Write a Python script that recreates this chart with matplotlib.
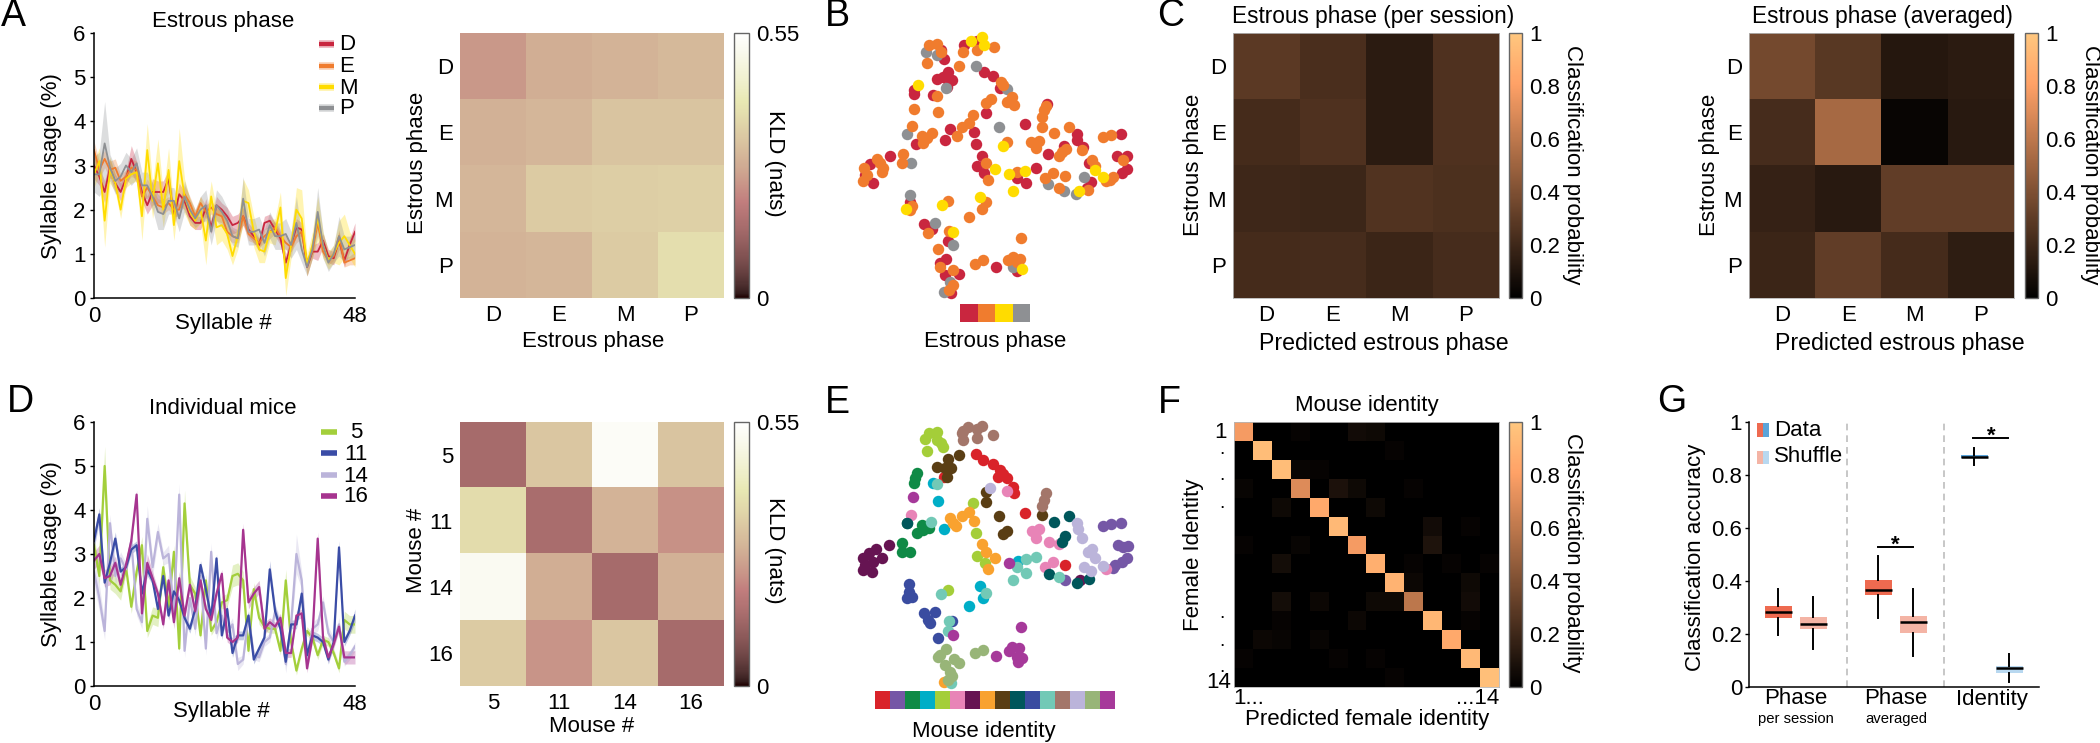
"""
Behaviour figure: syllable usage, KLD, embeddings and classifier results
"""
import numpy as np
import matplotlib
matplotlib.use("Agg")
import matplotlib.pyplot as plt
from matplotlib.lines import Line2D
from matplotlib.patches import Rectangle

plt.rcParams["font.family"] = ["Liberation Sans", "DejaVu Sans"]
plt.rcParams["font.size"] = 16

W, H = 2100, 743

# ---- panel A: usage per phase
phase_names = ["D", "E", "M", "P"]
phase_colors = ["#C9263F", "#F07C2E", "#FFDC00", "#8E9093"]
usage_D = [3.0,2.75,2.4,2.95,2.6,2.4,2.7,3.15,2.85,2.4,2.1,2.4,2.4,2.4,2.7,1.85,2.35,2.2,1.85,1.7,1.7,2.05,1.6,2.1,2.0,1.85,1.65,1.7,1.85,1.55,1.4,1.2,1.7,1.75,1.55,1.35,0.8,1.2,1.6,1.55,0.7,1.05,1.05,1.3,0.95,0.9,1.3,0.85,1.2,1.5]
usage_E = [3.35,2.9,3.15,2.9,2.95,2.65,2.75,2.95,2.9,2.3,2.5,2.3,2.1,2.05,2.15,2.0,2.0,2.35,2.15,1.85,2.15,1.95,2.05,1.9,1.85,1.5,1.4,1.35,1.85,1.45,1.35,1.25,1.4,1.5,1.6,1.4,1.25,1.15,1.4,1.5,0.8,1.05,1.7,1.05,0.85,0.95,1.4,0.8,0.85,0.9]
usage_M = [2.8,3.1,1.75,2.9,2.6,2.0,2.7,2.8,2.85,1.85,3.35,2.2,3.05,2.0,2.9,1.65,3.1,2.3,1.95,1.75,2.0,1.3,2.3,1.6,1.65,1.45,0.95,1.4,2.2,2.15,1.5,1.1,1.05,1.5,1.5,2.05,0.45,1.2,2.0,1.8,0.75,1.2,1.8,1.2,0.85,1.0,1.25,1.4,1.2,1.0]
usage_P = [2.8,2.8,3.5,2.95,2.65,2.75,3.0,2.85,3.05,2.55,2.55,2.3,1.95,1.9,2.2,2.2,1.8,2.3,2.0,1.8,2.0,2.1,1.5,2.1,1.95,1.75,1.4,1.35,2.25,1.5,1.5,1.55,1.25,1.65,1.4,1.4,1.45,1.2,1.7,1.1,0.7,1.1,1.95,1.2,0.8,1.0,1.4,1.1,1.15,1.2]
sem_D = [.3,.2,.25,.2,.2,.2,.2,.3,.25,.2,.2,.3,.25,.25,.2,.2,.25,.2,.2,.15,.15,.2,.15,.2,.15,.2,.2,.2,.2,.15,.15,.15,.15,.15,.15,.15,.2,.15,.2,.15,.2,.15,.2,.15,.15,.15,.2,.15,.15,.2]
sem_E = [.2,.2,.2,.2,.2,.15,.15,.2,.2,.15,.2,.15,.15,.15,.15,.15,.15,.2,.15,.15,.15,.15,.15,.15,.15,.15,.15,.1,.2,.15,.1,.1,.15,.15,.15,.15,.15,.1,.15,.15,.1,.1,.15,.1,.1,.1,.15,.1,.1,.15]
sem_M = [.3,.3,.6,.3,.2,.2,.2,.2,.2,.55,.6,.4,.55,.4,.5,.35,.75,.4,.3,.2,.3,.55,.35,.4,.35,.35,.2,.3,.5,.3,.35,.3,.25,.25,.3,.35,.4,.3,.5,.65,.25,.3,.5,.3,.2,.2,.5,.5,.3,.3]
sem_P = [.4,.5,.95,.3,.3,.3,.3,.3,.35,.3,.3,.3,.4,.35,.3,.3,.3,.35,.25,.2,.3,.35,.3,.35,.35,.3,.2,.2,.5,.3,.3,.3,.3,.3,.3,.3,.35,.3,.6,.3,.2,.2,.55,.3,.2,.2,.45,.3,.25,.3]

# ---- panel D: usage per mouse
mouse_names = ["5", "11", "14", "16"]
mouse_colors = ["#A3CF3B", "#3A4CA6", "#BBB4DA", "#A6348F"]
usage_5 = [3.2,2.5,5.0,2.4,2.3,2.15,2.7,1.8,2.6,3.2,1.25,1.6,1.55,2.7,1.8,3.05,0.85,4.15,2.3,2.1,1.15,2.4,1.25,1.45,1.9,1.95,2.5,2.55,2.4,0.8,2.2,1.55,1.35,1.3,1.3,0.8,2.4,1.0,0.35,0.85,1.25,1.1,0.7,1.05,1.0,0.75,0.4,1.5,1.4,1.4]
usage_11 = [3.3,3.9,2.35,2.8,3.35,2.6,2.7,3.1,3.2,2.1,2.65,2.4,1.75,2.5,1.6,2.15,1.95,1.55,1.3,1.75,2.75,2.2,1.55,2.9,1.15,1.75,0.75,1.15,1.15,1.6,0.6,0.85,1.1,2.65,1.7,1.3,0.55,1.4,1.4,2.1,0.7,1.15,1.1,1.0,0.6,1.0,3.15,1.0,1.25,1.6]
usage_14 = [2.6,2.0,1.25,3.7,2.5,2.9,2.65,3.3,1.75,1.45,3.8,2.7,3.5,2.9,3.0,1.7,4.35,0.8,2.0,1.3,2.5,0.85,3.05,1.2,1.6,1.2,1.4,0.5,0.6,1.6,0.7,0.65,1.0,1.1,1.7,1.4,0.5,1.4,3.0,2.4,0.6,1.3,1.4,1.9,1.2,1.0,1.4,0.55,0.7,0.9]
usage_16 = [2.85,3.0,2.45,2.5,2.8,2.3,2.75,3.3,4.35,1.65,2.8,2.45,2.1,1.4,2.4,1.45,2.45,1.6,2.3,1.7,2.4,1.75,1.5,2.1,2.55,1.1,1.0,1.1,3.55,1.9,2.1,2.25,1.3,1.45,1.35,1.55,0.75,0.75,1.6,1.65,0.4,1.1,3.35,1.1,0.65,0.95,1.35,0.65,0.65,0.65]
sem_5 = [.2,.2,.45,.2,.2,.2,.15,.15,.15,.2,.15,.2,.2,.15,.15,.15,.1,.3,.2,.15,.1,.15,.1,.1,.15,.15,.25,.25,.2,.1,.15,.15,.1,.1,.1,.1,.25,.1,.1,.1,.1,.1,.1,.1,.1,.1,.1,.2,.2,.2]
sem_11 = [.2,.15,.15,.15,.15,.1,.1,.1,.1,.15,.15,.1,.1,.1,.1,.1,.1,.1,.1,.1,.1,.1,.1,.1,.1,.1,.1,.1,.1,.1,.1,.1,.1,.2,.15,.1,.1,.1,.1,.15,.1,.1,.1,.1,.1,.1,.15,.1,.1,.15]
sem_14 = [.3,.3,.2,.2,.2,.15,.15,.15,.15,.15,.3,.2,.2,.15,.2,.15,.25,.15,.15,.15,.15,.15,.2,.15,.15,.15,.15,.15,.1,.15,.1,.1,.1,.1,.15,.15,.2,.15,.45,.2,.1,.15,.15,.15,.15,.1,.15,.1,.1,.1]
sem_16 = [.2,.2,.2,.2,.15,.15,.15,.15,.1,.15,.2,.15,.1,.1,.15,.15,.15,.1,.1,.1,.1,.1,.1,.1,.1,.1,.1,.1,.15,.15,.15,.15,.15,.1,.1,.1,.1,.1,.1,.1,.1,.1,.15,.1,.1,.1,.1,.15,.15,.15]

# ---- KLD matrices (nats)
kld_phase = [[.242, .280, .292, .302],
             [.286, .297, .325, .325],
             [.297, .341, .347, .352],
             [.292, .297, .341, .385]]
kld_mouse = [[.148, .330, .534, .325],
             [.380, .154, .292, .231],
             [.523, .280, .148, .286],
             [.341, .236, .330, .148]]

# ---- classifier confusion matrices
conf_session = [[.29, .235, .14, .25],
                [.22, .25, .14, .25],
                [.20, .195, .26, .245],
                [.22, .225, .19, .225]]
conf_averaged = [[.37, .285, .12, .14],
                 [.225, .53, .03, .13],
                 [.17, .13, .31, .31],
                 [.19, .31, .22, .15]]
conf_diag = [.78, .95, .95, .70, .85, .93, .78, .88, .90, .60, .92, .85, .93, .96]
# (row, col, probability), 1-based like the axis labels
conf_off = [(1,4,.02),(1,7,.06),(1,8,.05),(2,9,.02),(3,4,.03),(3,5,.02),(4,1,.03),(4,6,.09),
            (4,7,.05),(4,10,.02),(5,3,.05),(5,8,.05),(6,11,.06),(6,13,.02),(7,1,.02),(7,4,.03),
            (7,11,.10),(8,3,.07),(8,10,.02),(8,12,.02),(8,14,.02),(9,10,.04),(9,13,.05),
            (10,3,.07),(10,5,.04),(10,8,.05),(10,9,.05),(10,13,.06),(11,3,.02),(11,7,.04),
            (11,13,.02),(12,2,.04),(12,3,.03),(12,5,.03),(13,1,.02),(13,6,.02),(13,8,.02),(14,9,.02)]

# ---- panel B embedding, coloured by phase
emb_B_D = [(362,150),(372,177),(385,215),(350,237),(370,232),(395,240),(380,262),(283,282),(282,270),(338,285),(491,215),(519,228),(432,135),(470,122),(680,313),(499,339),(614,373),(391,387),(375,420),(289,433),(463,397),(469,433),(486,467),(472,499),(493,520),(210,468),(150,492),(160,550),(135,525),(540,265),(770,403),(772,420),(788,440),(733,437),(685,461),(648,505),(592,535),(617,550),(806,489),(813,547),(800,565),(903,403),(892,467),(920,468),(922,507),(905,520),(270,605),(312,672),(335,688),(385,723),(378,778),(527,800),(592,812),(375,825),(417,821),(393,880),(360,790)]
emb_B_P = [(318,155),(350,165),(378,265),(467,197),(562,267),(262,403),(536,381),(272,490),(685,553),(733,574),(768,581),(793,532),(270,586),(345,668),(398,735),(580,802),(390,845),(373,875)]
emb_B_E = [(328,135),(350,133),(362,155),(322,188),(416,198),(428,155),(470,150),(521,142),(543,245),(548,255),(498,308),(513,298),(575,292),(560,305),(582,315),(351,288),(282,326),(354,335),(460,344),(447,368),(425,381),(410,408),(335,398),(305,408),(275,378),(320,415),(310,428),(248,461),(245,490),(170,478),(180,490),(190,505),(185,517),(133,505),(140,525),(130,542),(498,490),(505,540),(560,425),(590,515),(677,318),(672,330),(665,350),(665,380),(703,398),(747,380),(850,410),(873,405),(633,425),(657,422),(648,445),(738,447),(725,455),(716,467),(785,450),(815,480),(825,498),(700,520),(675,535),(734,527),(716,563),(805,570),(880,530),(870,540),(858,543),(910,480),(383,603),(275,618),(270,630),(497,607),(487,628),(447,650),(388,693),(325,700),(354,747),(604,713),(465,791),(488,781),(565,780),(578,770),(592,785),(600,776),(360,802),(400,810),(398,855),(388,870)]
emb_B_M = [(293,256),(452,123),(487,112),(491,135),(549,437),(525,508),(566,523),(615,512),(579,574),(848,531),(825,510),(778,573),(481,590),(365,615),(258,627),(400,695),(605,806)]

# ---- panel E embedding, coloured by mouse
identity_colors = ["#D9232A", "#7557A6", "#0F8A46", "#00AEC7", "#A4CE39", "#E884B7", "#661452", "#F9A22F",
                   "#5A3E14", "#00575B", "#3A4CA0", "#72C9B6", "#A3766A", "#BBB4DA", "#98B578", "#A6399A"]
emb_E = [
    [(467,253),(490,270),(519,283),(540,300),(548,312),(535,322),(562,323),(578,350),(583,370),(614,428),(735,585),(372,320)],
    [(850,467),(873,463),(904,459),(893,525),(908,530),(925,527),(922,565),(905,575),(885,585),(880,595),(735,631)],
    [(292,310),(285,325),(281,340),(305,465),(290,490),(310,480),(327,475),(247,520),(245,547),(270,547),(262,460)],
    [(338,340),(353,392),(373,476),(594,573),(481,648),(488,685),(446,708)],
    [(327,190),(350,187),(315,208),(350,210),(362,220),(370,230),(320,242),(459,400),(469,490),(472,557),(494,578),(383,661)],
    [(273,434),(637,482),(658,478),(648,503),(686,517),(718,522),(700,577),(676,592),(858,597),(562,362)],
    [(208,525),(167,537),(147,550),(130,565),(185,565),(160,575),(135,585),(130,600),(157,607),(780,630)],
    [(390,445),(400,460),(408,468),(426,438),(447,425),(463,453),(486,523),(497,547),(526,565),(505,598),(372,935)],
    [(416,254),(385,268),(350,292),(375,293),(393,295),(380,320),(497,365),(498,395),(536,437),(666,436),(548,492),(560,483)],
    [(262,460),(703,455),(748,437),(735,497),(725,515),(686,612),(770,638),(806,628)],
    [(268,643),(268,665),(262,685),(275,680),(312,730),(345,725),(325,750),(330,760),(395,752),(353,805)],
    [(350,343),(333,455),(617,568),(648,560),(592,592),(617,608),(580,631),(718,620),(362,673),(497,668),(388,752),(384,783),(392,938)],
    [(430,182),(445,170),(470,178),(487,168),(520,196),(430,210),(470,205),(425,190),(678,370),(672,390),(667,408)],
    [(511,354),(772,460),(773,478),(787,503),(817,537),(803,545),(825,565),(793,590),(813,604),(848,588)],
    [(378,838),(360,855),(355,860),(375,885),(402,868),(418,880),(390,905),(395,918),(385,930),(465,850),(488,840)],
    [(280,382),(566,580),(398,794),(604,771),(527,859),(575,830),(598,835),(568,842),(590,860),(605,865),(595,875)],
]

# ---- panel G boxes: low whisker, q1, median, q3, high whisker
box_stats = [[.197, .262, .283, .304, .369],
             [.142, .218, .239, .264, .340],
             [.260, .346, .366, .405, .493],
             [.118, .205, .244, .268, .369],
             [.836, .864, .868, .877, .902],
             [.018, .054, .070, .079, .123]]
box_colors = ["#EE6A50", "#F4B4A5", "#EE6A50", "#F4B4A5", "#5BA4D9", "#B8D8F0"]


fig = plt.figure(figsize=(W / 100, H / 100), dpi=100)


def px_axes(left, top, right, bottom):
    return fig.add_axes([left / W, 1 - bottom / H, (right - left) / W, (bottom - top) / H])


def put(x, y, s, **kw):
    kw.setdefault("ha", "center")
    kw.setdefault("va", "center")
    return fig.text(x / W, 1 - y / H, s, **kw)


def fig_line(x0, x1, y, **kw):
    fig.add_artist(Line2D([x0 / W, x1 / W], [1 - y / H, 1 - y / H], transform=fig.transFigure, **kw))


def fig_rect(x0, y0, x1, y1, color):
    fig.add_artist(Rectangle((x0 / W, 1 - y1 / H), (x1 - x0) / W, (y1 - y0) / H,
                             transform=fig.transFigure, facecolor=color, edgecolor="none"))


def usage_panel(top, bottom, series, sems, colors, lw):
    ax = px_axes(94, top, 355, bottom)
    x = np.arange(len(series[0]))
    for y, e, c in zip(series, sems, colors):
        y, e = np.array(y), np.array(e)
        ax.fill_between(x, y - e, y + e, color=c, alpha=0.3, lw=0)
        ax.plot(x, y, color=c, lw=lw)
    ax.set_xlim(0, x[-1])
    ax.set_ylim(0, 6)
    ax.set_yticks(range(7))
    ax.set_xticks([0, x[-1]], ["0", "48"])
    ax.tick_params(axis="y", length=3, width=1, pad=3)
    ax.tick_params(axis="x", length=0, pad=6)
    ax.spines[["top", "right"]].set_visible(False)
    ax.spines[["left", "bottom"]].set_linewidth(1.1)
    return ax


def heat_panel(left, top, right, bottom, values, cmap, vmax, names=None):
    ax = px_axes(left, top, right, bottom)
    im = ax.imshow(values, cmap=cmap, vmin=0, vmax=vmax, aspect="auto", interpolation="nearest")
    if names is None:
        ax.set_xticks([])
        ax.set_yticks([])
    else:
        ax.set_xticks(range(len(names)), names)
        ax.set_yticks(range(len(names)), names)
    ax.tick_params(length=0, pad=5)
    for s in ax.spines.values():
        s.set_color("#b5b5b5")
        s.set_linewidth(0.6)
    return ax, im


def color_bar(im, left, top, right, bottom, ticks, labels, title, title_x, title_y):
    cax = px_axes(left, top, right, bottom)
    cb = fig.colorbar(im, cax=cax)
    cb.set_ticks(ticks, labels=labels)
    cb.ax.tick_params(length=0, pad=5)
    cb.outline.set_edgecolor("#666666")
    cb.outline.set_linewidth(1)
    put(title_x, title_y, title, rotation=270)


def embedding(left, top, right, bottom, groups, colors):
    ax = px_axes(left, top, right, bottom)
    for pts, c in zip(groups, colors):
        xy = np.array(pts)
        ax.scatter(xy[:, 0], xy[:, 1], s=68, color=c, linewidths=0)
    ax.set_xlim(0, (right - left) * 3)
    ax.set_ylim((bottom - top) * 3, 0)
    ax.axis("off")


def color_strip(left, top, right, bottom, colors):
    ax = px_axes(left, top, right, bottom)
    ax.bar(range(len(colors)), 1, width=1, color=colors)
    ax.set_xlim(-0.5, len(colors) - 0.5)
    ax.set_ylim(0, 1)
    ax.axis("off")


# panel letters
for letter, x, y in [("A", 13, 16), ("B", 837, 16), ("C", 1171, 16),
                     ("D", 20, 402), ("E", 837, 403), ("F", 1169, 403), ("G", 1672, 402)]:
    put(x, y, letter, fontsize=27)

# A
usage_panel(33, 298, [usage_D, usage_E, usage_M, usage_P], [sem_D, sem_E, sem_M, sem_P], phase_colors, 1.3)
put(223, 21, "Estrous phase")
put(223, 324, "Syllable #")
put(52, 166, "Syllable usage (%)", rotation=90)
for name, c, y in zip(phase_names, phase_colors, [44, 66, 87, 108]):
    fig_line(319, 334, y, color=c, lw=5.5, alpha=0.35, solid_capstyle="butt")
    fig_line(319, 334, y, color=c, lw=3, solid_capstyle="butt")
    put(339, y + 1, name, ha="left")

# D
usage_panel(422, 686, [usage_5, usage_14, usage_11, usage_16], [sem_5, sem_14, sem_11, sem_16],
            [mouse_colors[0], mouse_colors[2], mouse_colors[1], mouse_colors[3]], 1.6)
put(223, 408, "Individual mice")
put(221, 712, "Syllable #")
put(52, 554, "Syllable usage (%)", rotation=90)
for name, c, y in zip(mouse_names, mouse_colors, [432, 453, 475, 496]):
    fig_line(321, 337, y, color=c, lw=4, solid_capstyle="butt")
    put(356, y + 1, name)

# KLD heatmaps
ax, im = heat_panel(460, 33, 724, 298, kld_phase, "pink", 0.55, phase_names)
for s in ax.spines.values():
    s.set_visible(False)
color_bar(im, 734, 33, 749, 298, [0, 0.55], ["0", "0.55"], "KLD (nats)", 775, 163)
put(593, 342, "Estrous phase")
put(417, 163, "Estrous phase", rotation=90)

ax, im = heat_panel(460, 422, 724, 686, kld_mouse, "pink", 0.55, mouse_names)
for s in ax.spines.values():
    s.set_visible(False)
color_bar(im, 734, 422, 749, 686, [0, 0.55], ["0", "0.55"], "KLD (nats)", 775, 550)
put(592, 727, "Mouse #")
put(417, 550, "Mouse #", rotation=90)

# B, E
embedding(820, 0, 1150, 370, [emb_B_D, emb_B_P, emb_B_E, emb_B_M],
          [phase_colors[0], phase_colors[3], phase_colors[1], phase_colors[2]])
color_strip(960, 304, 1030, 322, phase_colors)
put(995, 342, "Estrous phase")

embedding(820, 370, 1150, 743, emb_E, identity_colors)
color_strip(875, 691, 1115, 709, identity_colors)
put(984, 731, "Mouse identity")

# C
prob_ticks = [0, 0.2, 0.4, 0.6, 0.8, 1]
prob_labels = ["0", "0.2", "0.4", "0.6", "0.8", "1"]
ax, im = heat_panel(1233, 33, 1499, 298, conf_session, "copper", 1, phase_names)
color_bar(im, 1509, 33, 1522, 298, prob_ticks, prob_labels, "Classification probability", 1573, 165)
put(1373, 17, "Estrous phase (per session)", fontsize=16.3)
put(1384, 343, "Predicted estrous phase", fontsize=16.7)
put(1194, 165, "Estrous phase", rotation=90)

ax, im = heat_panel(1749, 33, 2014, 298, conf_averaged, "copper", 1, phase_names)
color_bar(im, 2025, 33, 2038, 298, prob_ticks, prob_labels, "Classification probability", 2090, 165)
put(1882, 17, "Estrous phase (averaged)", fontsize=16.3)
put(1900, 343, "Predicted estrous phase", fontsize=16.7)
put(1710, 165, "Estrous phase", rotation=90)

# F
conf_identity = np.zeros((14, 14))
conf_identity[np.arange(14), np.arange(14)] = conf_diag
for r, c, p in conf_off:
    conf_identity[r - 1, c - 1] = p
ax, im = heat_panel(1234, 422, 1499, 687, conf_identity, "copper", 1)
color_bar(im, 1509, 422, 1522, 687, prob_ticks, prob_labels, "Classification probability", 1573, 553)
put(1367, 405, "Mouse identity")
put(1367, 719, "Predicted female identity")
put(1194, 555, "Female Identity", rotation=90)
put(1227, 432, "1", ha="right")
put(1231, 683, "14", ha="right")
for y in [449, 476, 503, 614, 641, 668]:
    put(1222, y, ".", fontsize=14)
put(1233, 699, "1...", ha="left")
put(1499, 699, "...14", ha="right")

# G
ax = px_axes(1749, 422, 2039, 687)
stats = [dict(whislo=s[0], q1=s[1], med=s[2], q3=s[3], whishi=s[4], fliers=[]) for s in box_stats]
parts = ax.bxp(stats, positions=[29, 64, 129, 164, 225, 260], widths=27, patch_artist=True,
               showcaps=False, showfliers=False,
               medianprops=dict(color="black", lw=1.8), whiskerprops=dict(color="black", lw=1.4),
               boxprops=dict(lw=0))
for box, c in zip(parts["boxes"], box_colors):
    box.set_facecolor(c)
for x in [98, 195]:
    ax.axvline(x, color="#bdbdbd", lw=1.2, ls=(0, (4, 3)))
ax.plot([129, 164], [.528, .528], color="black", lw=1.4)
ax.plot([224, 259], [.938, .938], color="black", lw=1.4)
ax.text(146, .535, "*", ha="center", va="center", fontsize=16, fontweight="bold")
ax.text(242, .945, "*", ha="center", va="center", fontsize=16, fontweight="bold")
ax.set_xlim(0, 290)
ax.set_ylim(0, 1)
ax.set_xticks([])
ax.set_yticks(prob_ticks, prob_labels)
ax.tick_params(axis="y", length=3, width=1, pad=2)
ax.spines[["top", "right"]].set_visible(False)
ax.spines[["left", "bottom"]].set_linewidth(1.1)
put(1695, 557, "Classification accuracy", rotation=90)
for x, main, sub in [(1796, "Phase", "per session"), (1896, "Phase", "averaged"), (1992, "Identity", "")]:
    put(x, 699, main)
    put(x, 719, sub, fontsize=10.7)
fig_rect(1757, 423, 1763, 437, box_colors[0])
fig_rect(1763, 423, 1769, 437, box_colors[4])
fig_rect(1757, 451, 1763, 464, box_colors[1])
fig_rect(1763, 451, 1769, 464, box_colors[5])
put(1774, 430, "Data", ha="left")
put(1774, 457, "Shuffle", ha="left")

plt.savefig("out.png", dpi=100)
